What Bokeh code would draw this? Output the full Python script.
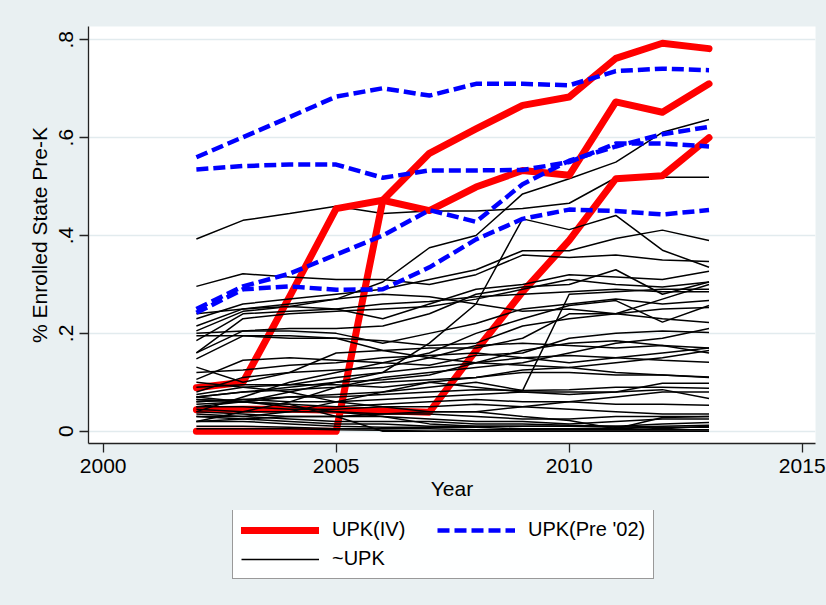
from bokeh.plotting import figure
from bokeh.layouts import column
from bokeh.models import Range1d, FixedTicker, Legend, LegendItem
from bokeh.embed import file_html
from bokeh.resources import INLINE

years = [2002, 2003, 2004, 2005, 2006, 2007, 2008, 2009, 2010, 2011, 2012, 2013]

# UPK(IV) states
upk_iv = [
    [0.089, 0.100, 0.275, 0.455, 0.472, 0.451, 0.499, 0.533, 0.523, 0.673, 0.652, 0.710],
    [0.000, 0.000, 0.000, 0.000, 0.472, 0.568, 0.618, 0.666, 0.683, 0.762, 0.793, 0.782],
    [0.044, 0.045, 0.045, 0.043, 0.042, 0.039, 0.165, 0.285, 0.390, 0.516, 0.522, 0.600],
]

# UPK (Pre '02) states
upk_pre02 = [
    [0.560, 0.601, 0.642, 0.684, 0.701, 0.686, 0.710, 0.710, 0.707, 0.736, 0.741, 0.738],
    [0.535, 0.542, 0.545, 0.545, 0.518, 0.533, 0.533, 0.534, 0.550, 0.588, 0.588, 0.582],
    [0.250, 0.296, 0.322, 0.361, 0.400, 0.452, 0.428, 0.505, 0.553, 0.582, 0.607, 0.622],
    [0.242, 0.290, 0.296, 0.289, 0.290, 0.335, 0.392, 0.434, 0.453, 0.450, 0.443, 0.452],
]

# ~UPK states (drawn before the red lines)
not_upk_back = [
    [0.393, 0.431, 0.445, 0.460, 0.445, 0.450, 0.450, 0.455, 0.466, 0.518, 0.519, 0.519],
    [0.205, 0.245, 0.255, 0.270, 0.305, 0.375, 0.400, 0.485, 0.516, 0.550, 0.611, 0.637],
]

# ~UPK states (drawn after the red lines)
not_upk = [
    [0.296, 0.322, 0.315, 0.310, 0.310, 0.300, 0.320, 0.360, 0.355, 0.360, 0.350, 0.347],
    [0.070, 0.080, 0.090, 0.100, 0.120, 0.180, 0.260, 0.434, 0.412, 0.441, 0.370, 0.335],
    [0.230, 0.260, 0.270, 0.280, 0.290, 0.310, 0.330, 0.369, 0.369, 0.394, 0.411, 0.390],
    [0.215, 0.250, 0.255, 0.250, 0.230, 0.260, 0.290, 0.300, 0.320, 0.315, 0.310, 0.327],
    [0.200, 0.205, 0.210, 0.210, 0.215, 0.240, 0.280, 0.295, 0.300, 0.330, 0.280, 0.305],
    [0.185, 0.240, 0.245, 0.250, 0.260, 0.265, 0.275, 0.280, 0.285, 0.290, 0.285, 0.285],
    [0.160, 0.205, 0.205, 0.200, 0.180, 0.200, 0.220, 0.250, 0.260, 0.270, 0.260, 0.267],
    [0.148, 0.195, 0.195, 0.190, 0.185, 0.175, 0.180, 0.215, 0.230, 0.240, 0.250, 0.253],
    [0.131, 0.100, 0.120, 0.160, 0.165, 0.170, 0.170, 0.190, 0.240, 0.240, 0.230, 0.222],
    [0.106, 0.145, 0.150, 0.145, 0.140, 0.135, 0.155, 0.160, 0.190, 0.200, 0.205, 0.202],
    [0.080, 0.110, 0.120, 0.125, 0.130, 0.150, 0.175, 0.180, 0.175, 0.170, 0.175, 0.170],
    [0.075, 0.090, 0.095, 0.110, 0.120, 0.130, 0.140, 0.150, 0.155, 0.150, 0.145, 0.141],
    [0.070, 0.080, 0.085, 0.090, 0.100, 0.105, 0.110, 0.120, 0.120, 0.115, 0.115, 0.111],
    [0.065, 0.060, 0.070, 0.075, 0.080, 0.090, 0.100, 0.083, 0.085, 0.090, 0.090, 0.088],
    [0.060, 0.065, 0.060, 0.060, 0.065, 0.070, 0.075, 0.080, 0.080, 0.080, 0.085, 0.067],
    [0.055, 0.060, 0.055, 0.050, 0.055, 0.060, 0.065, 0.060, 0.060, 0.055, 0.055, 0.053],
    [0.050, 0.050, 0.045, 0.045, 0.050, 0.050, 0.055, 0.050, 0.045, 0.040, 0.035, 0.035],
    [0.045, 0.040, 0.040, 0.040, 0.035, 0.035, 0.030, 0.025, 0.025, 0.030, 0.030, 0.030],
    [0.040, 0.035, 0.030, 0.030, 0.030, 0.025, 0.020, 0.020, 0.015, 0.020, 0.025, 0.025],
    [0.035, 0.030, 0.025, 0.020, 0.020, 0.020, 0.015, 0.015, 0.012, 0.010, 0.015, 0.018],
    [0.030, 0.025, 0.020, 0.015, 0.015, 0.010, 0.010, 0.010, 0.010, 0.008, 0.010, 0.012],
    [0.020, 0.020, 0.015, 0.010, 0.008, 0.008, 0.008, 0.005, 0.005, 0.005, 0.008, 0.008],
    [0.010, 0.010, 0.008, 0.005, 0.005, 0.005, 0.003, 0.003, 0.003, 0.003, 0.003, 0.003],
    [0.005, 0.005, 0.005, 0.003, 0.002, 0.000, 0.000, 0.000, 0.000, 0.000, 0.000, 0.000],
    [0.060, 0.065, 0.070, 0.070, 0.075, 0.080, 0.085, 0.083, 0.280, 0.285, 0.290, 0.290],
    [0.160, 0.230, 0.240, 0.245, 0.250, 0.255, 0.270, 0.290, 0.310, 0.300, 0.295, 0.305],
    [0.040, 0.070, 0.100, 0.120, 0.140, 0.160, 0.200, 0.230, 0.257, 0.267, 0.223, 0.257],
    [0.195, 0.195, 0.190, 0.190, 0.165, 0.150, 0.140, 0.135, 0.130, 0.120, 0.115, 0.110],
    [0.020, 0.040, 0.060, 0.090, 0.110, 0.120, 0.130, 0.140, 0.160, 0.180, 0.190, 0.210],
    [0.050, 0.060, 0.080, 0.100, 0.105, 0.115, 0.140, 0.165, 0.180, 0.185, 0.175, 0.160],
    [0.030, 0.030, 0.040, 0.060, 0.080, 0.100, 0.110, 0.125, 0.130, 0.140, 0.150, 0.165],
    [0.100, 0.090, 0.080, 0.060, 0.050, 0.040, 0.040, 0.050, 0.060, 0.070, 0.080, 0.080],
    [0.070, 0.060, 0.050, 0.040, 0.030, 0.015, 0.010, 0.010, 0.010, 0.010, 0.005, 0.010],
    [0.065, 0.060, 0.055, 0.030, 0.000, 0.000, 0.000, 0.000, 0.000, 0.000, 0.000, 0.000],
    [0.020, 0.025, 0.030, 0.030, 0.035, 0.040, 0.040, 0.030, 0.022, 0.005, 0.028, 0.030],
    [0.090, 0.095, 0.095, 0.095, 0.090, 0.100, 0.090, 0.080, 0.075, 0.080, 0.098, 0.098],
    [0.120, 0.125, 0.135, 0.140, 0.150, 0.155, 0.160, 0.150, 0.140, 0.150, 0.160, 0.170],
    [0.240, 0.250, 0.260, 0.270, 0.280, 0.275, 0.260, 0.245, 0.250, 0.240, 0.270, 0.300],
]

legend_labels = ["UPK(IV)", "~UPK", "UPK(Pre '02)"]

x_ticks = [2000, 2005, 2010, 2015]
x_tick_labels = ["2000", "2005", "2010", "2015"]
y_ticks = [0, 0.2, 0.4, 0.6, 0.8]
y_tick_labels = ["0", ".2", ".4", ".6", ".8"]

FONT = "Liberation Sans"
BG = "#E9F0F2"
RED = dict(line_color="#FF0000", line_width=7, line_join="round", line_cap="round")
BLACK = dict(line_color="black", line_width=1.5)
BLUE = dict(line_color="#0000FF", line_width=4.5, line_dash="12 5")

p = figure(width=826, height=510, output_backend="svg", toolbar_location=None,
           x_range=Range1d(1999.685, 2015.285), y_range=Range1d(-0.0251, 0.8272),
           min_border_left=88, min_border_right=11, min_border_top=26, min_border_bottom=67)
p.background_fill_color = "white"
p.border_fill_color = BG
p.outline_line_color = None

# grid
p.xgrid.grid_line_color = None
p.ygrid.ticker = FixedTicker(ticks=y_ticks)
p.ygrid.grid_line_color = "#E2EBEE"
p.ygrid.grid_line_width = 1.5

# axes
p.xaxis.ticker = FixedTicker(ticks=x_ticks)
p.xaxis.major_label_overrides = {t: l for t, l in zip(x_ticks, x_tick_labels)}
p.yaxis.ticker = FixedTicker(ticks=y_ticks)
p.yaxis.major_label_overrides = {t: l for t, l in zip(y_ticks, y_tick_labels)}
p.yaxis.major_label_orientation = "vertical"
for ax in (p.xaxis, p.yaxis):
    ax.axis_line_color = "#222222"
    ax.axis_line_width = 1.3
    ax.major_tick_line_color = "#222222"
    ax.major_tick_line_width = 1.3
    ax.major_tick_in = 0
    ax.major_tick_out = 9
    ax.minor_tick_line_color = None
    ax.major_label_text_font = FONT
    ax.major_label_text_font_size = "21px"
    ax.major_label_text_color = "black"
    ax.axis_label_text_font = FONT
    ax.axis_label_text_font_size = "21px"
    ax.axis_label_text_font_style = "normal"
    ax.axis_label_text_color = "black"
p.xaxis.axis_label = "Year"
p.yaxis.axis_label = "% Enrolled State Pre-K"
p.xaxis.major_label_standoff = 6
p.yaxis.major_label_standoff = 6
p.xaxis.axis_label_standoff = 1
p.yaxis.axis_label_standoff = 6

for v in not_upk_back:
    p.line(years, v, **BLACK)
for v in upk_iv:
    p.line(years, v, **RED)
for v in not_upk:
    p.line(years, v, **BLACK)
for v in upk_pre02:
    p.line(years, v, **BLUE)

# legend strip below the plot (its series lie outside this strip's ranges,
# they only serve as legend samples)
lf = figure(width=826, height=95, output_backend="svg", toolbar_location=None,
            x_range=Range1d(0, 1), y_range=Range1d(0, 1),
            x_axis_location=None, y_axis_location=None,
            min_border_left=88, min_border_right=11, min_border_top=0, min_border_bottom=0)
lf.background_fill_alpha = 0
lf.border_fill_color = BG
lf.outline_line_color = None
lf.grid.visible = False
r_red = lf.line(years, upk_iv[0], **RED)
r_black = lf.line(years, not_upk[0], **BLACK)
r_blue = lf.line(years, upk_pre02[0], **BLUE)

legend = Legend(items=[
    LegendItem(label=legend_labels[0], renderers=[r_red]),
    LegendItem(label=legend_labels[1], renderers=[r_black]),
    LegendItem(label=legend_labels[2], renderers=[r_blue]),
], location=(144, 26), ncols=2)
legend.glyph_width = 78
legend.glyph_height = 20
legend.label_standoff = 13
legend.label_width = 99
legend.spacing = 6
legend.padding = 8
legend.margin = 0
legend.border_line_color = "#333333"
legend.border_line_width = 1
legend.background_fill_color = "white"
legend.label_text_font = FONT
legend.label_text_font_size = "20px"
legend.label_text_color = "black"
lf.add_layout(legend)

layout = column(p, lf, spacing=0, styles={"background-color": BG})
open("out.html", "w").write(file_html(layout, INLINE))
